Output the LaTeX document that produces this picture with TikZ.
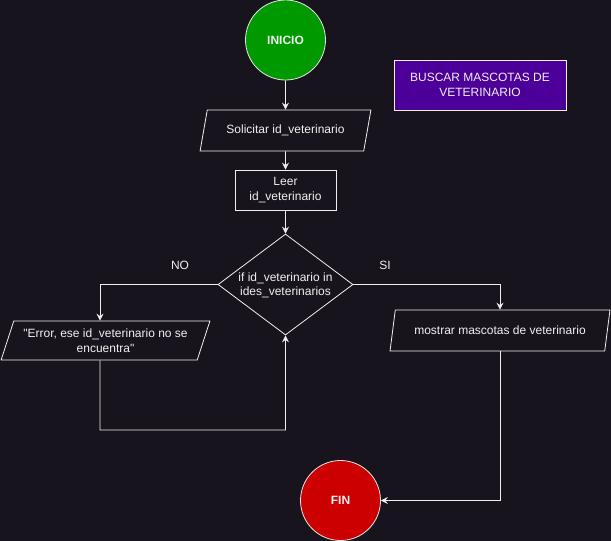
\documentclass[tikz,border=0pt]{standalone}
\usepackage{fontspec}
\setmainfont{Liberation Sans}
\usetikzlibrary{shapes.geometric,arrows.meta}
\definecolor{bg}{HTML}{18141D}
\definecolor{ln}{HTML}{F0F0F0}
\definecolor{gr}{HTML}{009900}
\definecolor{rd}{HTML}{CC0000}
\definecolor{pu}{HTML}{4C0099}
\tikzset{
  txt/.style={text=ln, font=\fontsize{12}{14.5}\selectfont, align=center},
  term/.style={circle, draw=ln!90!gray, line width=0.8pt, minimum size=80pt, inner sep=0pt, txt, font=\fontsize{12}{14}\selectfont\bfseries},
  io/.style={trapezium, trapezium left angle=64, trapezium right angle=116, trapezium stretches=true, draw=ln, line width=0.8pt, inner sep=0pt, txt},
  proc/.style={rectangle, draw=ln, line width=0.8pt, inner sep=0pt, txt},
  dec/.style={diamond, draw=ln, line width=0.8pt, inner sep=0pt, minimum width=135pt, minimum height=101pt},
  conn/.style={draw=ln, line width=0.8pt, -{Stealth[length=7pt,width=7pt,inset=2.5pt]}},
  lbl/.style={txt}
}
\begin{document}
\begin{tikzpicture}[x=1pt,y=-1pt]
\fill[bg] (0,0) rectangle (611,541);
\useasboundingbox (0,0) rectangle (611,541);

\node[term, fill=gr] (ini) at (285.5,40) {INICIO};
\node[proc, fill=pu, minimum width=172pt, minimum height=50pt] (title) at (480,85) {BUSCAR MASCOTAS DE\\VETERINARIO};
\node[io, minimum width=171pt, minimum height=41pt] (sol) at (285.5,130.5) {Solicitar id\_veterinario};
\node[proc, minimum width=101pt, minimum height=40pt] (leer) at (285.5,190) {Leer\\id\_veterinario};
\node[dec] (dia) at (285.5,284.5) {};
\node[txt] (diat) at (285.5,285.5) {if id\_veterinario in\\ides\_veterinarios};
\node[io, minimum width=209pt, minimum height=39pt] (err) at (105.5,340.5) {\textquotedbl Error, ese id\_veterinario no se\\encuentra\textquotedbl};
\node[io, minimum width=220pt, minimum height=41pt] (mos) at (500,330.5) {mostrar mascotas de veterinario};
\node[term, fill=rd] (fin) at (340.5,500.5) {FIN};
\node[lbl] (no) at (180,265) {NO};
\node[lbl] (si) at (385,265) {SI};

\coordinate (errin) at ([xshift=-5.5pt]err.north);
\coordinate (errout) at ([xshift=-5.5pt]err.south);
\coordinate (loopc) at (100,430);

\draw[conn] (ini) -- (sol);
\draw[conn] (sol) -- (leer);
\draw[conn] (leer) -- (dia);
\draw[conn] (dia.west) -| (errin);
\draw[conn] (errout) -- (loopc) -| (dia.south);
\draw[conn] (dia.east) -| (mos.north);
\draw[conn] (mos.south) |- (fin.east);
\end{tikzpicture}
\end{document}
